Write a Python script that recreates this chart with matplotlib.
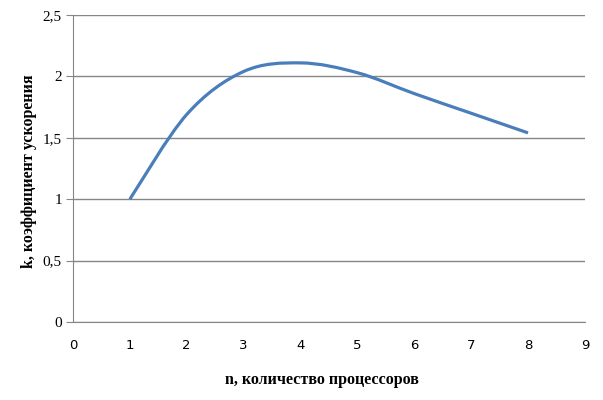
import numpy as np
import matplotlib
matplotlib.use('Agg')
import matplotlib.pyplot as plt
from matplotlib.path import Path
from matplotlib.patches import PathPatch

# Данные: число процессоров и коэффициент ускорения
n_proc = [1, 2, 3, 4, 5, 6, 7, 8]
k_speedup = [1.0, 1.69, 2.04, 2.11, 2.03, 1.86, 1.70, 1.54]

x_ticks = [0, 1, 2, 3, 4, 5, 6, 7, 8, 9]
y_ticks = [0, 0.5, 1, 1.5, 2, 2.5]
y_tick_labels = ['0', '0,5', '1', '1,5', '2', '2,5']


# Сглаженная линия как в Excel (Безье через точки)
def smooth_path(xs, ys):
    pts = np.column_stack([xs, ys]).astype(float)
    verts = [pts[0]]
    codes = [Path.MOVETO]
    for i in range(len(pts) - 1):
        p0 = pts[i - 1] if i > 0 else pts[i]
        p1 = pts[i]
        p2 = pts[i + 1]
        p3 = pts[i + 2] if i + 2 < len(pts) else pts[i + 1]
        c1 = p1 + (p2 - p0) / 6
        c2 = p2 - (p3 - p1) / 6
        verts += [c1, c2, p2]
        codes += [Path.CURVE4] * 3
    return Path(verts, codes)


fig = plt.figure(figsize=(6.03, 4.0), dpi=100)
ax = fig.add_axes([0.121, 0.195, 0.849, 0.7675])

patch = PathPatch(smooth_path(n_proc, k_speedup), facecolor='none',
                  edgecolor='#4A7EBB', lw=2.3, capstyle='butt')
ax.add_patch(patch)

ax.set_xlim(0, 9)
ax.set_ylim(0, 2.5)
ax.set_xticks(x_ticks)
ax.set_yticks(y_ticks)
ax.set_yticklabels(y_tick_labels, fontfamily='Liberation Serif', fontsize=11)
ax.set_xticklabels([str(t) for t in x_ticks], fontfamily='DejaVu Sans', fontsize=9.5)

ax.grid(axis='y', color='#868686', lw=1)
ax.set_axisbelow(True)
for s in ['top', 'right']:
    ax.spines[s].set_visible(False)
for s in ['left', 'bottom']:
    ax.spines[s].set_color('#868686')
ax.tick_params(axis='y', length=5, color='#868686', pad=3)
ax.tick_params(axis='x', length=0, pad=12)

ax.set_xlabel('n, количество процессоров', fontfamily='Liberation Serif',
              fontweight='bold', fontsize=11.5)
ax.xaxis.set_label_coords(0.486, -0.162)
ax.set_ylabel('k, коэффициент ускорения', fontfamily='Liberation Serif',
              fontweight='bold', fontsize=11.5)
ax.yaxis.set_label_coords(-0.070, 0.49)

fig.savefig('out.png', dpi=100)
